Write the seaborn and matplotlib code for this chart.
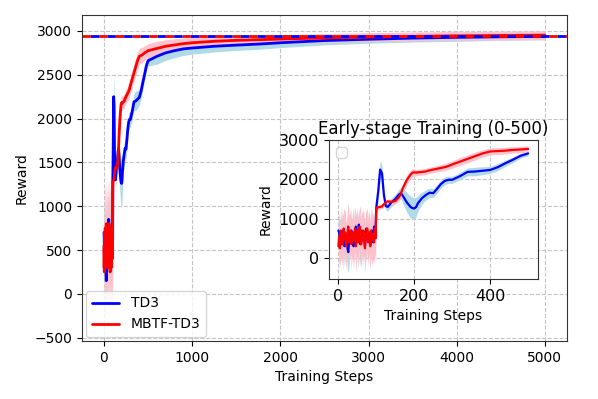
"""
TD3 vs MBTF-TD3 reward curves, with an inset zoom on the first 500 steps.
"""

import matplotlib
matplotlib.use("Agg")
import matplotlib.pyplot as plt
import numpy as np
import seaborn as sns

# ---- data ----
steps_early = list(range(0, 100, 2))
steps_mid = [100, 105, 110, 115, 120, 125, 130, 140, 150, 160, 165, 170, 180, 190, 195,
             200, 205, 210, 220, 230, 240, 250, 260, 270, 280, 290, 300, 320, 340, 360,
             380, 400, 420, 440, 460, 480, 500]
steps_late = [600, 700, 800, 900, 1000, 1250, 1500, 1750, 2000, 2500, 3000, 3500, 4000, 4500, 5000]

td3_early = [700, 650, 450, 600, 550, 350, 700, 500, 300, 600, 450, 550, 250, 150, 400, 600,
             500, 700, 450, 550, 300, 650, 500, 800, 550, 400, 600, 850, 500, 350, 650, 700,
             450, 600, 500, 300, 550, 750, 600, 450, 500, 650, 350, 550, 700, 600, 400, 800,
             550, 650]
td3_mid = [1290, 1700, 2250, 2150, 1600, 1320, 1300, 1420, 1500, 1620, 1650, 1580, 1420, 1300,
           1270, 1260, 1300, 1400, 1520, 1600, 1660, 1650, 1760, 1880, 1960, 1990, 1990, 2080,
           2190, 2200, 2220, 2240, 2310, 2410, 2500, 2600, 2660]
td3_late = [2710, 2750, 2775, 2795, 2805, 2825, 2838, 2850, 2865, 2890, 2905, 2918, 2927, 2933, 2938]

td3_early_std = [420, 380, 510, 450, 390, 560, 470, 400, 530, 480, 360, 440, 590, 500, 420, 470,
                 380, 520, 450, 400, 610, 430, 490, 380, 460, 540, 410, 370, 500, 580, 450, 420,
                 530, 390, 480, 620, 440, 410, 500, 460, 380, 520, 430, 470, 400, 550, 480, 410,
                 490, 430]
td3_mid_std = [150, 200, 230, 200, 120, 100, 100, 110, 120, 140, 150, 200, 250, 280, 280, 270,
               250, 200, 150, 130, 120, 110, 110, 100, 100, 90, 90, 90, 100, 110, 100, 90, 90,
               80, 70, 60, 60]
td3_late_std = [90, 85, 80, 75, 70, 65, 60, 60, 55, 50, 45, 45, 45, 40, 40]

mbtf_early = [300, 550, 250, 700, 400, 600, 350, 750, 500, 650, 300, 450, 600, 800, 400, 550,
              700, 350, 500, 650, 450, 600, 750, 300, 550, 700, 400, 500, 800, 600, 350, 650,
              450, 700, 500, 250, 600, 550, 750, 400, 650, 500, 300, 700, 550, 450, 600, 400,
              750, 500]
mbtf_mid = [1280, 1290, 1300, 1310, 1370, 1420, 1440, 1430, 1450, 1550, 1650, 1780, 1980, 2120,
            2170, 2180, 2170, 2180, 2190, 2200, 2230, 2250, 2270, 2290, 2310, 2340, 2380, 2450,
            2520, 2590, 2660, 2710, 2720, 2730, 2750, 2760, 2775]
mbtf_late = [2800, 2825, 2840, 2855, 2865, 2882, 2893, 2900, 2907, 2920, 2930, 2938, 2944, 2948, 2952]

mbtf_early_std = [560, 620, 500, 680, 540, 600, 650, 520, 700, 580, 610, 530, 660, 590, 720, 550,
                  600, 640, 510, 680, 570, 620, 540, 690, 600, 560, 650, 580, 530, 670, 610, 550,
                  700, 590, 540, 630, 580, 660, 520, 610, 570, 640, 600, 550, 680, 590, 620, 530,
                  650, 600]
mbtf_mid_std = [60, 60, 60, 60, 60, 60, 60, 70, 80, 100, 110, 120, 120, 110, 100, 90, 80, 80, 80,
                80, 80, 80, 80, 85, 90, 90, 95, 100, 100, 100, 95, 90, 90, 85, 80, 80, 80]
mbtf_late_std = [80, 75, 70, 65, 60, 55, 55, 50, 50, 50, 50, 50, 50, 50, 50]

final_td3 = 2945
final_mbtf = 2945

# ---- assemble series ----
steps = np.array(steps_early + steps_mid + steps_late)
td3 = np.array(td3_early + td3_mid + td3_late)
td3_std = np.array(td3_early_std + td3_mid_std + td3_late_std)
mbtf = np.array(mbtf_early + mbtf_mid + mbtf_late)
mbtf_std = np.array(mbtf_early_std + mbtf_mid_std + mbtf_late_std)

sns.set_style("ticks", {"axes.grid": True, "grid.linestyle": "--", "grid.color": "#c4c4c4",
                        "axes.edgecolor": "#333333", "text.color": "black",
                        "axes.labelcolor": "black", "xtick.color": "black",
                        "ytick.color": "black"})
plt.rcParams["font.family"] = ["DejaVu Sans"]


def draw_curves(ax, mask, lw):
    ax.fill_between(steps[mask], (td3 - td3_std)[mask], (td3 + td3_std)[mask],
                    color="lightblue", alpha=0.95, linewidth=0)
    ax.fill_between(steps[mask], (mbtf - mbtf_std)[mask], (mbtf + mbtf_std)[mask],
                    color="pink", alpha=0.95, linewidth=0)
    sns.lineplot(x=steps[mask], y=td3[mask], color="blue", linewidth=lw, ax=ax, label="TD3")
    sns.lineplot(x=steps[mask], y=mbtf[mask], color="red", linewidth=lw, ax=ax, label="MBTF-TD3")


fig = plt.figure(figsize=(5.98, 3.99), dpi=100)
ax = fig.add_axes([0.137, 0.145, 0.811, 0.817])
draw_curves(ax, steps >= 0, 2)
ax.axhline(final_mbtf, color="red", linestyle=(0, (3, 3)), linewidth=2)
ax.axhline(final_td3, color="blue", linestyle=(3, (3, 3)), linewidth=2)
ax.set_xlim(-250, 5250)
ax.set_ylim(-540, 3180)
ax.set_xticks([0, 1000, 2000, 3000, 4000, 5000])
ax.set_yticks(range(-500, 3001, 500))
ax.tick_params(labelsize=10)
ax.set_xlabel("Training Steps", fontsize=10)
ax.set_ylabel("Reward", fontsize=10)
ax.legend(loc="lower left", fontsize=10, borderaxespad=0.3)

# inset: first 500 steps
axin = fig.add_axes([0.550, 0.301, 0.349, 0.348])
draw_curves(axin, steps <= 500, 1.6)
axin.set_xlim(-25, 525)
axin.set_ylim(-530, 3000)
axin.set_xticks([0, 200, 400])
axin.set_yticks([0, 1000, 2000, 3000])
axin.tick_params(labelsize=11.5)
axin.set_title("Early-stage Training (0-500)", fontsize=12, pad=4)
axin.set_xlabel("Training Steps", fontsize=10)
axin.set_ylabel("Reward", fontsize=10)
axin.legend(handles=[], loc="upper left")

fig.savefig("out.png", dpi=100)
